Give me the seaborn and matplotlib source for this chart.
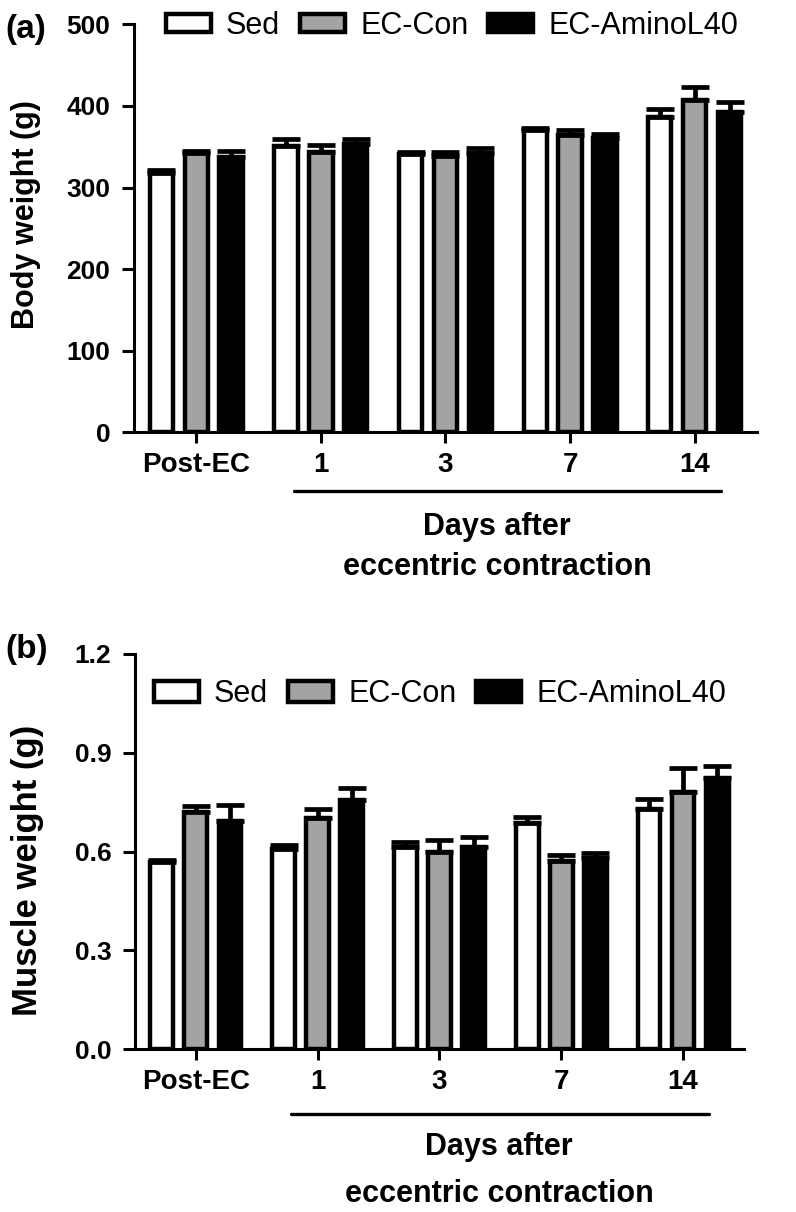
import pandas as pd
import matplotlib
matplotlib.use('Agg')
import matplotlib.pyplot as plt
import seaborn as sns

# Dados (media e EPM)
days = ['Post-EC', '1', '3', '7', '14']
groups = ['Sed', 'EC-Con', 'EC-AminoL40']
colors = ['white', '#a3a3a3', 'black']

body_sed = [318, 351, 341, 370, 386]
body_con = [342, 343, 339, 365, 407]
body_amino = [338, 353, 342, 361, 393]
body_sed_sem = [3, 9, 3, 3, 10]
body_con_sem = [3, 9, 5, 5, 16]
body_amino_sem = [7, 6, 6, 5, 12]

muscle_sed = [0.568, 0.609, 0.614, 0.687, 0.730]
muscle_con = [0.719, 0.703, 0.599, 0.571, 0.781]
muscle_amino = [0.692, 0.757, 0.613, 0.581, 0.822]
muscle_sed_sem = [0.006, 0.010, 0.015, 0.018, 0.030]
muscle_con_sem = [0.019, 0.027, 0.035, 0.018, 0.073]
muscle_amino_sem = [0.048, 0.036, 0.032, 0.016, 0.038]


def long_table(sed, con, amino):
    rows = []
    for g, vals in zip(groups, [sed, con, amino]):
        for d, v in zip(days, vals):
            rows.append({'Dia': d, 'Grupo': g, 'Valor': v})
    return pd.DataFrame(rows)


df_body = long_table(body_sed, body_con, body_amino)
df_muscle = long_table(muscle_sed, muscle_con, muscle_amino)

sns.set_theme(style='ticks')
plt.rcParams['font.family'] = ['Liberation Sans', 'DejaVu Sans']
plt.rcParams['axes.linewidth'] = 2.2
plt.rcParams['text.color'] = 'black'
plt.rcParams['axes.labelcolor'] = 'black'
plt.rcParams['xtick.color'] = 'black'
plt.rcParams['ytick.color'] = 'black'

fig = plt.figure(figsize=(7.96, 12.12), dpi=100)
ax1 = fig.add_axes([0.1683, 0.6433, 0.7827, 0.3366])
ax2 = fig.add_axes([0.1696, 0.1342, 0.7650, 0.3264])


def draw_panel(ax, df, sems, ymax, yticks, yticklabels, ylabel, ylab_size,
               ylab_pos, leg_pos, leg_hh, line_y, text_x, text_y1, text_y2):
    sns.barplot(data=df, x='Dia', y='Valor', hue='Grupo', hue_order=groups,
                order=days, palette=colors, edgecolor='black', linewidth=3.2,
                errorbar=None, width=0.84, gap=0.33, legend=False, ax=ax,
                saturation=1)
    bar_conts = list(ax.containers)
    # barras de erro (so para cima)
    for cont, sem in zip(bar_conts, sems):
        xs = [b.get_x() + b.get_width() / 2 for b in cont.patches]
        hs = [b.get_height() for b in cont.patches]
        ax.errorbar(xs, hs, yerr=[[0] * len(sem), sem], fmt='none',
                    ecolor='black', elinewidth=3.4, capsize=10, capthick=3.4,
                    zorder=1)
    ax.set_xlim(-0.5, 4.5)
    ax.set_ylim(0, ymax)
    ax.set_yticks(yticks)
    ax.set_yticklabels(yticklabels)
    sns.despine(ax=ax)
    ax.tick_params(axis='y', direction='out', length=9, width=2.2, pad=8,
                   labelsize=19, colors='black')
    ax.tick_params(axis='x', direction='out', length=8, width=2.2, pad=6,
                   labelsize=20, colors='black')
    plt.setp(ax.get_yticklabels(), fontweight='bold')
    plt.setp(ax.get_xticklabels(), fontweight='bold')
    ax.set_xlabel('')
    ax.set_ylabel(ylabel, fontsize=ylab_size, fontweight='bold', color='black')
    ax.yaxis.set_label_coords(*ylab_pos)
    ax.yaxis.label.set_verticalalignment('center')
    for sp in ax.spines.values():
        sp.set_color('black')
    handles = [c.patches[0] for c in bar_conts]
    ax.legend(handles, groups, loc='center left', bbox_to_anchor=leg_pos,
              ncol=3, frameon=False, fontsize=22, borderpad=0,
              borderaxespad=0, handlelength=1.47, handleheight=leg_hh,
              handletextpad=0.5, columnspacing=0.65, labelcolor='black')
    ax.plot([0.257, 0.942], [line_y, line_y], color='black', lw=2.4,
            transform=ax.transAxes, clip_on=False)
    ax.text(text_x, text_y1, 'Days after', transform=ax.transAxes,
            ha='center', va='baseline', fontsize=22, fontweight='bold')
    ax.text(text_x, text_y2, 'eccentric contraction', transform=ax.transAxes,
            ha='center', va='baseline', fontsize=22, fontweight='bold')


draw_panel(ax1, df_body, [body_sed_sem, body_con_sem, body_amino_sem],
           500, [0, 100, 200, 300, 400, 500],
           ['0', '100', '200', '300', '400', '500'],
           'Body weight (g)', 22, (-0.174, 0.533), (0.051, 0.997), 0.55,
           -0.144, 0.583, -0.252, -0.350)

draw_panel(ax2, df_muscle, [muscle_sed_sem, muscle_con_sem, muscle_amino_sem],
           1.2, [0.0, 0.3, 0.6, 0.9, 1.2],
           ['0.0', '0.3', '0.6', '0.9', '1.2'],
           'Muscle weight (g)', 25, (-0.176, 0.4535), (0.031, 0.898), 0.72,
           -0.163, 0.598, -0.267, -0.385)

fig.text(0.0327, 0.976, '(a)', fontsize=24, fontweight='bold',
         ha='center', va='center')
fig.text(0.0335, 0.4645, '(b)', fontsize=24, fontweight='bold',
         ha='center', va='center')

plt.savefig('out.png', dpi=100)
